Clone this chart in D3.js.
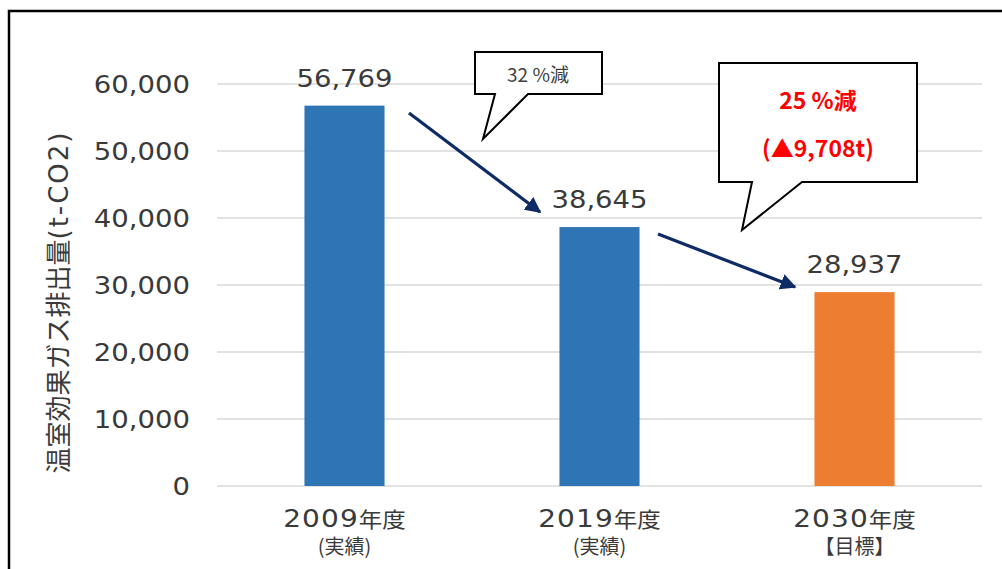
<!DOCTYPE html>
<html>
<head>
<meta charset="utf-8">
<script src="https://cdn.jsdelivr.net/npm/d3@7"></script>
<style>
  body { margin: 0; background: #fff; }
  svg { display: block; }
</style>
</head>
<body>
<svg width="1002" height="569"></svg>
<script>
// chart data
const years = ["2009", "2019", "2030"];
const subLabels = ["(実績)", "(実績)", "【目標】"];
const emissions = [56769, 38645, 28937];
const barColors = ["#2E75B6", "#2E75B6", "#ED7D31"];
const yTicks = [0, 10000, 20000, 30000, 40000, 50000, 60000];

const svg = d3.select("svg");
const numFont = "'DejaVu Sans', Verdana, sans-serif";
const jpFont = "'Noto Sans CJK JP', sans-serif";
const textColor = "#3a3a3a";
const fmt = d3.format(",");

const x = d3.scaleBand()
  .domain(years)
  .range([217, 982])
  .paddingInner(0.686)
  .paddingOuter(0.343);

const y = d3.scaleLinear()
  .domain([0, 60000])
  .range([486, 84]);

// outer frame (only top and left edges show)
svg.append("path")
  .attr("d", "M9,569 V11 H1002")
  .attr("fill", "none")
  .attr("stroke", "#000")
  .attr("stroke-width", 2.5);

// gridlines
svg.append("g")
  .selectAll("line")
  .data(yTicks)
  .enter()
  .append("line")
  .attr("x1", 217)
  .attr("x2", 982)
  .attr("y1", (d) => y(d))
  .attr("y2", (d) => y(d))
  .attr("stroke", "#d9d9d9")
  .attr("stroke-width", 1.5);

// y tick labels (wide digits -> stretch horizontally)
svg.append("g")
  .selectAll("text")
  .data(yTicks)
  .enter()
  .append("text")
  .attr("transform", (d) => `translate(190,${y(d) + 9}) scale(1.1,1)`)
  .attr("text-anchor", "end")
  .attr("font-family", numFont)
  .attr("font-size", 25)
  .attr("fill", textColor)
  .text((d) => fmt(d));

// y axis title
const yTitle = svg.append("text")
  .attr("transform", "translate(68,302) rotate(-90)")
  .attr("text-anchor", "middle")
  .attr("fill", textColor)
  .attr("font-size", 26);
yTitle.append("tspan").attr("font-family", jpFont).text("温室効果ガス排出量");
yTitle.append("tspan").attr("font-family", numFont).attr("letter-spacing", 2).text("(t-CO2)");

// bars
svg.append("g")
  .selectAll("rect")
  .data(emissions)
  .enter()
  .append("rect")
  .attr("x", (d, i) => x(years[i]))
  .attr("width", x.bandwidth())
  .attr("y", (d) => y(d))
  .attr("height", (d) => y(0) - y(d))
  .attr("fill", (d, i) => barColors[i]);

// value labels
svg.append("g")
  .selectAll("text")
  .data(emissions)
  .enter()
  .append("text")
  .attr("transform", (d, i) => `translate(${x(years[i]) + x.bandwidth() / 2},${y(d) - 19}) scale(1.1,1)`)
  .attr("text-anchor", "middle")
  .attr("font-family", numFont)
  .attr("font-size", 25)
  .attr("fill", textColor)
  .text((d) => fmt(d));

// category labels
const cat = svg.append("g")
  .selectAll("g")
  .data(years)
  .enter()
  .append("g")
  .attr("transform", (d) => `translate(${x(d) + x.bandwidth() / 2},0)`);

const line1 = cat.append("text")
  .attr("transform", "translate(0,527) scale(1.12,1)")
  .attr("text-anchor", "middle")
  .attr("fill", textColor);
line1.append("tspan")
  .attr("font-family", numFont)
  .attr("font-size", 25)
  .attr("letter-spacing", 1)
  .text((d) => d);
line1.append("tspan")
  .attr("font-family", jpFont)
  .attr("font-size", 21)
  .text("年度");

cat.append("text")
  .attr("y", 554)
  .attr("text-anchor", "middle")
  .attr("font-family", jpFont)
  .attr("font-size", 20)
  .attr("fill", textColor)
  .text((d, i) => subLabels[i]);

// arrows
const navy = "#0f2b66";
svg.append("defs").append("marker")
  .attr("id", "head")
  .attr("viewBox", "0 0 10 10")
  .attr("refX", 9)
  .attr("refY", 5)
  .attr("markerWidth", 5)
  .attr("markerHeight", 5)
  .attr("markerUnits", "strokeWidth")
  .attr("orient", "auto")
  .append("path")
  .attr("d", "M0,0 L10,5 L0,10 Z")
  .attr("fill", navy);

const arrows = [
  [409, 113, 540, 212],
  [658, 234, 795, 287]
];
svg.append("g")
  .selectAll("line")
  .data(arrows)
  .enter()
  .append("line")
  .attr("x1", (d) => d[0])
  .attr("y1", (d) => d[1])
  .attr("x2", (d) => d[2])
  .attr("y2", (d) => d[3])
  .attr("stroke", navy)
  .attr("stroke-width", 3.2)
  .attr("marker-end", "url(#head)");

// callouts
svg.append("path")
  .attr("d", "M475,52 H602 V94 H528 L483,139 L495,94 H475 Z")
  .attr("fill", "#fff")
  .attr("stroke", "#000")
  .attr("stroke-width", 2);

svg.append("text")
  .attr("x", 538)
  .attr("y", 82)
  .attr("text-anchor", "middle")
  .attr("font-family", jpFont)
  .attr("font-size", 19)
  .attr("fill", "#404040")
  .text("32 %減");

svg.append("path")
  .attr("d", "M719,63 H917 V182 H802 L742,230 L752,182 H719 Z")
  .attr("fill", "#fff")
  .attr("stroke", "#000")
  .attr("stroke-width", 2);

svg.append("text")
  .attr("x", 818)
  .attr("y", 109)
  .attr("text-anchor", "middle")
  .attr("font-family", jpFont)
  .attr("font-weight", "bold")
  .attr("font-size", 23)
  .attr("fill", "#ff0000")
  .text("25 %減");

svg.append("text")
  .attr("x", 818)
  .attr("y", 157)
  .attr("text-anchor", "middle")
  .attr("font-family", jpFont)
  .attr("font-weight", "bold")
  .attr("font-size", 23)
  .attr("fill", "#ff0000")
  .text("(▲9,708t)");
</script>
</body>
</html>
